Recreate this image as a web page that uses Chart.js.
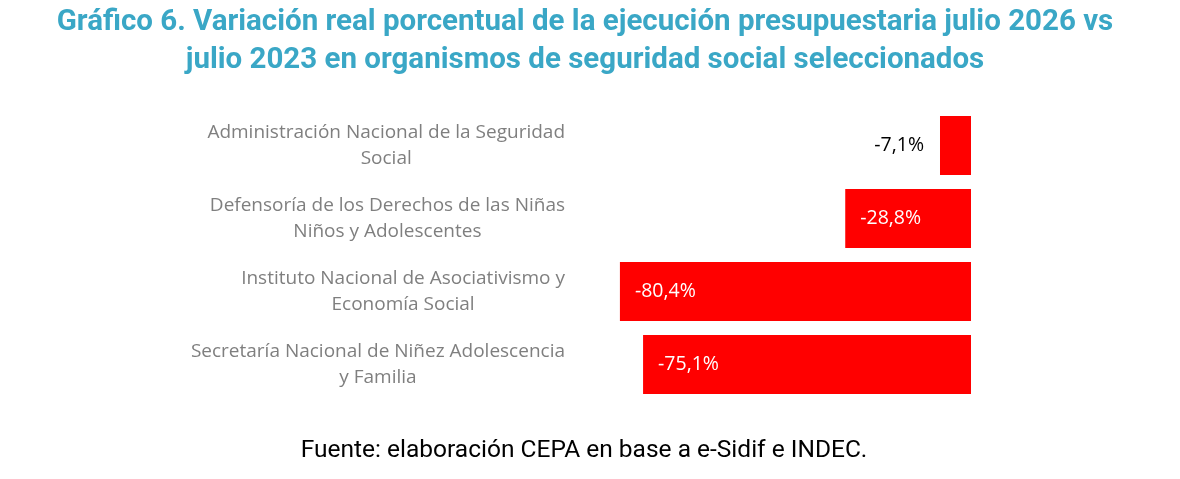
<!DOCTYPE html>
<html>
<head>
<meta charset="utf-8">
<script src="https://cdn.jsdelivr.net/npm/chart.js@4.4.1/dist/chart.umd.min.js"></script>
<style>
    html, body { margin: 0; padding: 0; background: #fff; }
    #wrap { position: relative; width: 1180px; height: 479px; }
    #title {
        position: absolute; left: 0; top: 1px; width: 1170px;
        text-align: center; font-family: Roboto, sans-serif; font-weight: bold;
        font-size: 29.5px; line-height: 38px; color: #3aa7c6;
    }
    #source {
        position: absolute; left: 0; top: 434px; width: 1168px;
        text-align: center; font-family: Roboto, sans-serif;
        font-size: 24.5px; color: #000;
    }
</style>
</head>
<body>
<div id="wrap">
    <canvas id="chart"></canvas>
    <div id="title">Gráfico 6. Variación real porcentual de la ejecución presupuestaria julio 2026 vs<br>julio 2023 en organismos de seguridad social seleccionados</div>
    <div id="source">Fuente: elaboración CEPA en base a e-Sidif e INDEC.</div>
</div>
<script>
// Categories (one entry per line of the label)
const categories = [
    ['Administración Nacional de la Seguridad', 'Social'],
    ['Defensoría de los Derechos de las Niñas', 'Niños y Adolescentes'],
    ['Instituto Nacional de Asociativismo y', 'Economía Social'],
    ['Secretaría Nacional de Niñez Adolescencia', 'y Familia']
];

// Real % change, Jul 2026 vs Jul 2023
const variation = [-7.1, -28.8, -80.4, -75.1];

function formatPct(v) {
    return v.toFixed(1).replace('.', ',') + '%';
}

// Category labels: block right-aligned to the plot, lines centered in the block
const categoryLabels = {
    id: 'categoryLabels',
    afterDraw(chart) {
        const ctx = chart.ctx;
        const yScale = chart.scales.y;
        const right = chart.chartArea.left - 13;
        ctx.save();
        ctx.font = '19px "Open Sans", sans-serif';
        ctx.fillStyle = '#7f7f7f';
        ctx.textAlign = 'center';
        ctx.textBaseline = 'middle';
        categories.forEach((lines, i) => {
            const cy = yScale.getPixelForValue(i);
            const blockWidth = Math.max(...lines.map(l => ctx.measureText(l).width));
            const cx = right - blockWidth / 2;
            const lineH = 26;
            lines.forEach((line, j) => {
                ctx.fillText(line, cx, cy + (j - (lines.length - 1) / 2) * lineH);
            });
        });
        ctx.restore();
    }
};

// Value labels: inside the bar near its end, outside when the bar is too short
const valueLabels = {
    id: 'valueLabels',
    afterDatasetsDraw(chart) {
        const ctx = chart.ctx;
        const meta = chart.getDatasetMeta(0);
        ctx.save();
        ctx.font = '19.5px "Open Sans", sans-serif';
        ctx.textBaseline = 'middle';
        meta.data.forEach((bar, i) => {
            const text = formatPct(variation[i]);
            const w = ctx.measureText(text).width;
            const barWidth = Math.abs(bar.base - bar.x);
            if (barWidth < w + 30) {
                ctx.fillStyle = '#000';
                ctx.textAlign = 'right';
                ctx.fillText(text, bar.x - 16, bar.y);
            } else {
                ctx.fillStyle = '#fff';
                ctx.textAlign = 'left';
                ctx.fillText(text, bar.x + 15, bar.y);
            }
        });
        ctx.restore();
    }
};

const ctx = document.getElementById('chart').getContext('2d');

new Chart(ctx, {
    type: 'bar',
    data: {
        labels: categories,
        datasets: [{
            data: variation,
            backgroundColor: '#ff0000',
            borderWidth: 0,
            barPercentage: 0.81,
            categoryPercentage: 1
        }]
    },
    options: {
        indexAxis: 'y',
        responsive: true,
        maintainAspectRatio: false,
        animation: false,
        layout: {
            padding: { top: 109, bottom: 78, left: 578, right: 209 }
        },
        plugins: {
            legend: { display: false },
            tooltip: { enabled: false }
        },
        scales: {
            x: { display: false, min: -90, max: 0 },
            y: { display: false }
        }
    },
    plugins: [categoryLabels, valueLabels]
});
</script>
</body>
</html>
